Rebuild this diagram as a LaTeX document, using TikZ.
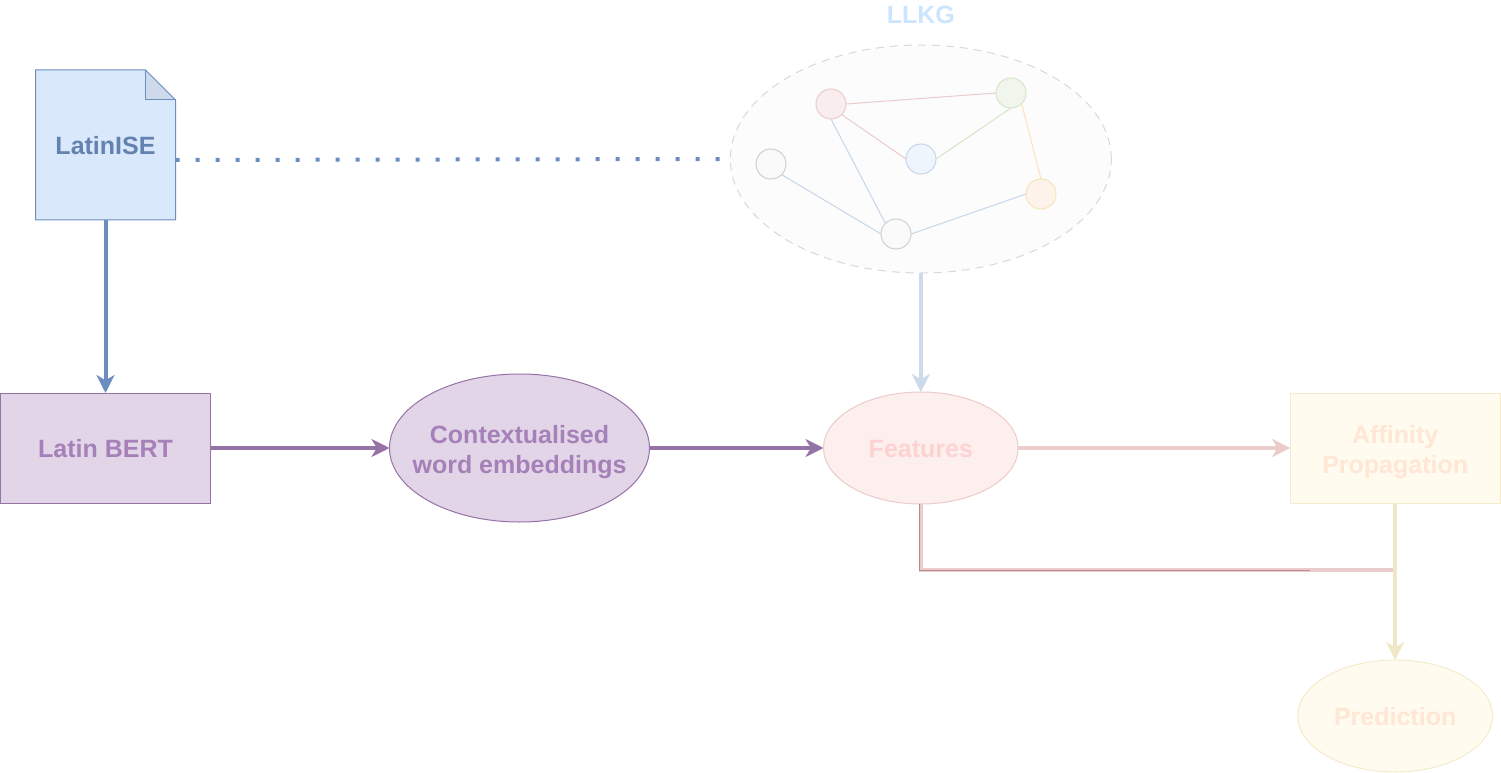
\documentclass[tikz,border=0pt]{standalone}
\usepackage{fontspec}
\setmainfont{Liberation Sans}
\usetikzlibrary{arrows.meta,positioning,shapes.geometric}
\definecolor{docblue}{HTML}{DAE8FC}
\definecolor{docline}{HTML}{6C8EBF}
\definecolor{doctext}{HTML}{6482B0}
\definecolor{docfold}{HTML}{CEDAEC}
\definecolor{bertfill}{HTML}{E1D5E7}
\definecolor{bertline}{HTML}{9673A6}
\definecolor{berttext}{HTML}{A680B8}
\definecolor{featfill}{HTML}{FCEFEE}
\definecolor{featline}{HTML}{EBCBCB}
\definecolor{feattext}{HTML}{FFD2D2}
\definecolor{featdark}{HTML}{B58F8F}
\definecolor{affifill}{HTML}{FFFBEE}
\definecolor{affiline}{HTML}{F5EBCB}
\definecolor{affitext}{HTML}{FFE6D5}
\definecolor{affiarrow}{HTML}{F0E7C6}
\definecolor{cloudfill}{HTML}{FCFCFC}
\definecolor{cloudline}{HTML}{D8D8D8}
\definecolor{cloudlink}{HTML}{C6D6EA}
\definecolor{cloudarrow}{HTML}{CDDAEB}
\definecolor{cloudtext}{HTML}{CCE5FF}
\definecolor{redfill}{HTML}{F9EEED}
\definecolor{greenfill}{HTML}{F0F6EC}
\definecolor{greenline}{HTML}{D5E6C9}
\definecolor{bluefill}{HTML}{EFF5FD}
\definecolor{orangefill}{HTML}{FDF3EB}
\definecolor{orangeline}{HTML}{F8E4BB}
\definecolor{grayfill}{HTML}{FAFAFA}
\definecolor{grayline}{HTML}{D0D0D0}
\tikzset{
  boxtext/.style={font=\fontsize{18.75}{22.5}\selectfont\bfseries,align=center,inner sep=0pt,outer sep=0pt,execute at begin node={\rule{0pt}{15pt}}},
  boxnode/.style={boxtext,rectangle,draw=#1,minimum width=157.5pt,minimum height=82.5pt,line width=0.75pt},
  roundnode/.style={boxtext,ellipse,draw=#1,line width=0.75pt,inner sep=-12pt},
  graphnode/.style={circle,draw=#1,line width=0.75pt,minimum size=22.5pt,inner sep=0pt,outer sep=0pt},
  flow/.style={draw=#1,line width=3pt,-{Stealth[length=13.5pt,width=13.5pt,inset=4pt]}},
  graphlink/.style={draw=#1,line width=0.75pt}
}
\begin{document}
\begin{tikzpicture}[x=0.75pt,y=-0.75pt]
\path[use as bounding box] (0,0) rectangle (1501,773);
% middle row
\node(NBert)[boxnode=bertline,fill=bertfill,text=berttext] at (105.5,448){Latin BERT};
\node(NEmbed)[roundnode=bertline,fill=bertfill,text=berttext,minimum width=195pt,minimum height=111pt,right=134.25pt of NBert]{\rule{0pt}{19pt}Contextualised\\word embeddings};
\node(NFeat)[roundnode=featline,fill=featfill,text=feattext,minimum width=146pt,minimum height=84pt,right=130.5pt of NEmbed]{Features};
\node(NAffi)[boxnode=affiline,fill=affifill,text=affitext,right=204pt of NFeat]{\rule{0pt}{19pt}Affinity\\Propagation};
\node(NPred)[roundnode=affiline,fill=affifill,text=affitext,minimum width=146pt,minimum height=84pt,below=117.75pt of NAffi]{Prediction};
% document
\node(NDoc)[minimum width=105pt,minimum height=112.5pt,inner sep=0pt,outer sep=0pt,above=129.75pt of NBert]{};
\fill[docblue] (NDoc.south west) -- (NDoc.north west) -- ([xshift=-22.5pt]NDoc.north east) -- ([yshift=-22.5pt]NDoc.north east) -- (NDoc.south east) -- cycle;
\fill[docfold] ([xshift=-22.5pt]NDoc.north east) -- ([yshift=-22.5pt]NDoc.north east) -- ([xshift=-22.5pt,yshift=-22.5pt]NDoc.north east) -- cycle;
\draw[docline,line width=0.75pt] (NDoc.south west) -- (NDoc.north west) -- ([xshift=-22.5pt]NDoc.north east) -- ([yshift=-22.5pt]NDoc.north east) -- (NDoc.south east) -- cycle;
\draw[docline,line width=0.75pt] ([xshift=-22.5pt]NDoc.north east) -- ([xshift=-22.5pt,yshift=-22.5pt]NDoc.north east) -- ([yshift=-22.5pt]NDoc.north east);
\node(NDocText)[boxtext,text=doctext] at (NDoc){LatinISE};
% graph
\node(NCloud)[ellipse,draw=cloudline,fill=cloudfill,dash pattern=on 6pt off 4.5pt,line width=0.75pt,minimum width=285.75pt,minimum height=171pt,inner sep=0pt,outer sep=0pt,above=89.25pt of NFeat]{};
\node(NTitle)[boxtext,text=cloudtext,above=15.75pt of NCloud.north,anchor=base]{LLKG};
\node(NRed)[graphnode=featline,fill=redfill] at (831,104){};
\node(NGreen)[graphnode=greenline,fill=greenfill] at (1011,93){};
\node(NBlue)[graphnode=cloudlink,fill=bluefill] at (921,159){};
\node(NOrange)[graphnode=orangeline,fill=orangefill] at (1041,194){};
\node(NGrayA)[graphnode=grayline,fill=grayfill] at (771,164){};
\node(NGrayB)[graphnode=grayline,fill=grayfill] at (896,234){};
\draw[graphlink=featline] (NRed.east) -- (NGreen.west);
\draw[graphlink=featline] (NRed.-45) -- (NBlue.west);
\draw[graphlink=cloudlink] (NRed.south) -- (NGrayB.135);
\draw[graphlink=greenline] (NBlue.east) -- (NGreen.south);
\draw[graphlink=orangeline] (NGreen.-45) -- (NOrange.north);
\draw[graphlink=cloudlink] (NGrayA.-45) -- (NGrayB.west);
\draw[graphlink=cloudlink] (NGrayB.east) -- (NOrange.west);
% connectors
\draw[flow=docline] (NDoc.south) -- (NBert.north);
\draw[docline,line width=3pt,dash pattern=on 3pt off 12pt] ([yshift=-11.25pt]NDoc.east) -- (NCloud.west);
\draw[flow=bertline] (NBert) -- (NEmbed);
\draw[flow=bertline] (NEmbed) -- (NFeat);
\draw[flow=cloudarrow] (NCloud.south) -- (NFeat.north);
\draw[flow=featline] (NFeat.east) -- (NAffi.west);
\coordinate(NJoin) at (NAffi.south |- 0,570);
\coordinate(NThin) at (1310,570);
\draw[featline,line width=3pt] (NFeat.south) |- (NJoin);
\draw[featdark,line width=0.75pt] ([xshift=-0.75pt]NFeat.south) |- (NThin);
\draw[flow=affiarrow] (NAffi.south) -- (NPred.north);
\end{tikzpicture}
\end{document}
